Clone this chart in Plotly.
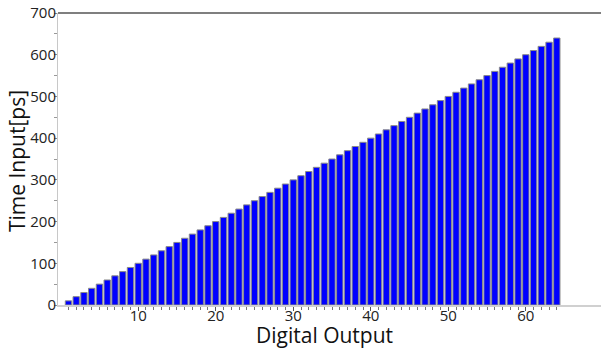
import plotly.graph_objects as go

digital_output = list(range(1, 65))
time_input_ps = [10 * n for n in digital_output]

x_tick_vals = [10, 20, 30, 40, 50, 60]
y_tick_vals = [0, 100, 200, 300, 400, 500, 600, 700]

fig = go.Figure()
fig.add_trace(go.Bar(
    x=digital_output,
    y=time_input_ps,
    marker=dict(color="#0000ff", line=dict(color="#8a8a8a", width=1)),
    width=0.82,
))

font_family = "Open Sans, Noto Sans, DejaVu Sans, sans-serif"

fig.update_layout(
    width=601, height=349,
    margin=dict(l=58, r=0, t=13, b=44, autoexpand=False),
    plot_bgcolor="white", paper_bgcolor="white",
    showlegend=False,
    font=dict(family=font_family, color="#222222"),
    xaxis=dict(
        range=[-0.35, 69.7],
        automargin=False,
        tickvals=x_tick_vals,
        ticks="outside", ticklen=4, tickcolor="#555555",
        tickfont=dict(size=15, color="#222222"),
        ticklabelstandoff=-8,
        showline=True, linecolor="#d0d0d0", linewidth=2,
        showgrid=False, zeroline=False,
        minor=dict(tickvals=digital_output, ticks="outside", ticklen=3, tickcolor="#777777"),
    ),
    yaxis=dict(
        range=[0, 700],
        automargin=False,
        tickvals=y_tick_vals,
        ticks="outside", ticklen=3, tickcolor="#888888",
        tickfont=dict(size=15, color="#222222"),
        ticklabelstandoff=-5,
        showline=True, linecolor="#c8c8c8", linewidth=1,
        showgrid=False, zeroline=False,
        minor=dict(dtick=50, tick0=0, ticks="outside", ticklen=3, tickcolor="#999999"),
    ),
    annotations=[
        dict(text="Digital Output", xref="paper", yref="paper", x=0.491, y=-0.103,
             xanchor="center", yanchor="middle", showarrow=False,
             font=dict(size=21, color="#111111")),
        dict(text="Time Input[ps]", xref="paper", yref="paper", x=-0.0755, y=0.493,
             xanchor="center", yanchor="middle", showarrow=False, textangle=-90,
             font=dict(size=21, color="#111111")),
    ],
)

# top border line
fig.add_shape(type="line", xref="paper", yref="paper", x0=0, x1=1, y0=1, y1=1,
              line=dict(color="#555555", width=1.5))

fig.write_html("out.html", config={"displayModeBar": False},
               post_script="document.body.style.margin='0';document.body.style.overflow='hidden';")
